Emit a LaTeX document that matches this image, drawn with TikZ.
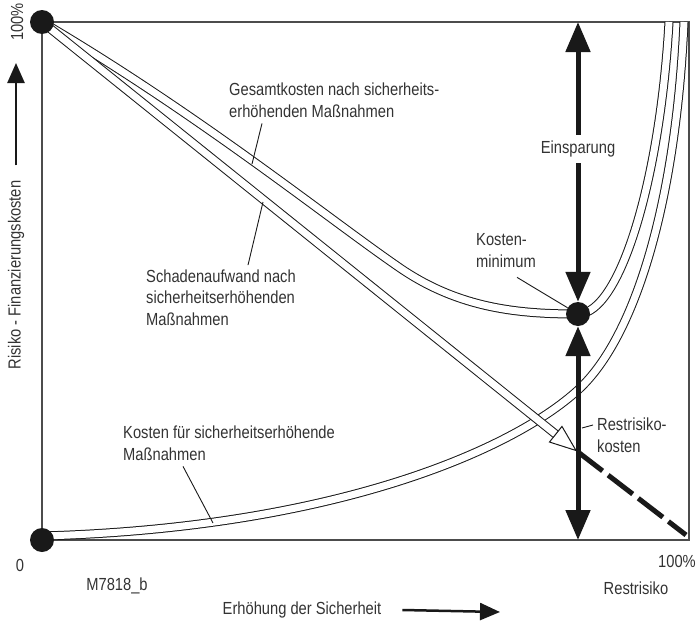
\documentclass[tikz,border=0pt]{standalone}
\usepackage{fontspec}
\setmainfont{Liberation Sans}[FakeStretch=0.84]
\usetikzlibrary{arrows.meta,calc}

\begin{document}
\begin{tikzpicture}[
  x=1pt, y=-1pt,
  frame/.style={draw=black!70, line width=1.2pt},
  curve/.style={draw=black!90, line width=1pt, double=white, double distance=7pt},
  hollow/.style={draw=black!90, fill=white, line width=1pt, line join=miter},
  dot/.style={circle, fill=black!90, minimum size=24pt, inner sep=0pt},
  bigarr/.style={line width=5pt, draw=black!90,
                 {Triangle[length=30pt,width=24pt]}-{Triangle[length=30pt,width=24pt]}},
  axarr/.style={line width=2.5pt, draw=black!90, -{Triangle[length=20pt,width=17pt]}},
  lbl/.style={font=\fontsize{17.5}{21.5}\selectfont, text=black!80, inner sep=0pt, align=left},
  lead/.style={draw=black!90, line width=0.9pt}
]
\useasboundingbox (0,0) rectangle (696,621);

\coordinate (tl)   at (42,22);
\coordinate (bl)   at (42,540);
\coordinate (br)   at (689,540);
\coordinate (k0)   at (42,536);
\coordinate (kmid) at (578,390);
\coordinate (ktop) at (684,22);
\coordinate (g1)   at (400,268);
\coordinate (mn)   at (578,314);
\coordinate (gtop) at (669,22);
\coordinate (rest) at (578,452);
\coordinate (stip) at (576,450.5);
\coordinate (dend) at (686,535);
\coordinate (top)  at (578,22);
\coordinate (bot)  at (578,540);

\draw[frame] (tl) rectangle (br);

% cost curve, total cost curve and damage line
\draw[curve] (k0) .. controls (330,528) and (510,452) .. (kmid)
                  .. controls (636,337) and (676,200) .. (ktop);
\draw[curve] (tl) .. controls (200,115) and (330,220) .. (g1)
                  .. controls (460,309) and (520,314) .. (mn)
                  .. controls (620,314) and (660,180) .. (gtop);
\coordinate (sbase) at ($(stip)!26pt!(tl)$);
\draw[curve] (tl) -- (sbase);
\draw[hollow] ($(sbase)!10pt!90:(stip)$) -- (stip) -- ($(sbase)!10pt!-90:(stip)$) -- cycle;
\draw[line width=5pt, draw=black!90, dash pattern=on 31pt off 7pt] (rest) -- (dend);

\node[dot] (d100) at (tl) {};
\node[dot] (d0)   at (bl) {};
\node[dot] (dmin) at (mn) {};
\draw[bigarr] (top) -- (dmin.north);
\draw[bigarr] (dmin.south) -- (bot);
\node[lbl, fill=white, inner xsep=3pt, inner ysep=6pt] (einsp) at (578,149) {Einsparung};

% labels with leader lines (anchored at the baseline of their last line)
\node[lbl, anchor=base west] (gk) at (229,117) {Gesamtkosten nach sicherheits-\\erhöhenden Maßnahmen};
\coordinate (gkl) at (252,164);
\draw[lead] ([xshift=33pt,yshift=-6pt]gk.south west) -- (gkl);

\node[lbl, anchor=base west] (sa) at (146,325) {Schadenaufwand nach\\sicherheitserhöhenden\\Maßnahmen};
\coordinate (sal) at (263,202);
\draw[lead] ([xshift=102pt,yshift=4pt]sa.north west) -- (sal);

\node[lbl, anchor=base west] (km) at (476,267) {Kosten-\\minimum};
\draw[lead] ([xshift=41pt,yshift=-10pt]km.south west) -- (dmin);

\node[lbl, anchor=base west] (kf) at (123,460) {Kosten für sicherheitserhöhende\\Maßnahmen};
\coordinate (kfl) at (213,523);
\draw[lead] ([xshift=60pt,yshift=-6pt]kf.south west) -- (kfl);

\node[lbl, anchor=base west] (rk) at (597,452) {Restrisiko-\\kosten};
\coordinate (rkl) at (582,428);
\draw[lead] ([shift={(-4pt,10pt)}]rk.west) -- (rkl);

% axes
\node[lbl, rotate=90] (p100) at (17,22) {100\%};
\node[lbl, rotate=90] (ylab) at (16,275) {Risiko - Finanzierungskosten};
\coordinate (yarr) at (16,63);
\draw[axarr] ([yshift=15pt]ylab.east) -- (yarr);
\node[lbl] (p0) at (20,565) {0};
\node[lbl] (code) at (117,586) {M7818\_b};
\node[lbl] (xlab) at (302,610) {Erhöhung der Sicherheit};
\coordinate (xarr) at (500,612);
\draw[axarr] ([xshift=21pt]xlab.east) -- (xarr);
\node[lbl] (q100) at (677,561) {100\%};
\node[lbl] (rr) at (636,588) {Restrisiko};
\end{tikzpicture}
\end{document}
